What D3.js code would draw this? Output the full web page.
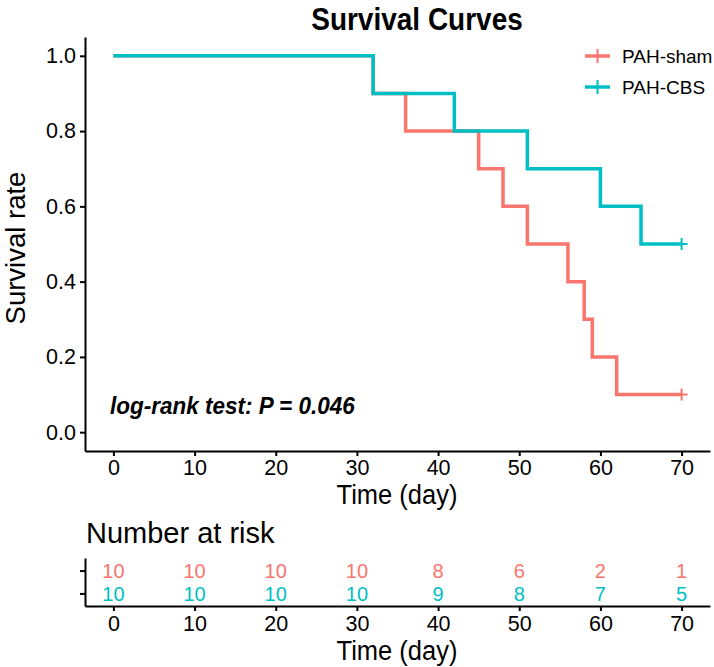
<!DOCTYPE html>
<meta charset="utf-8">
<style>
body { margin: 0; background: #fff; }
svg { display: block; font-family: "Liberation Sans", Arial, sans-serif; }
.axis path, .axis line { stroke: #000; stroke-width: 2px; }
.axis text { fill: #000; font-size: 21.5px; }
</style>
<body>
<div id="chart"></div>
<script src="https://cdnjs.cloudflare.com/ajax/libs/d3/7.8.5/d3.min.js"></script>
<script>
// groups and colours
var groups = ["PAH-sham", "PAH-CBS"];
var colors = ["#F8766D", "#00BFC4"];

// Kaplan-Meier step points (time, survival) per group
var shamTime = [0, 32, 36, 45, 48, 51, 56, 58, 59, 62, 70];
var shamSurv = [1.0, 0.9, 0.8, 0.7, 0.6, 0.5, 0.4, 0.3, 0.2, 0.1, 0.1];
var cbsTime = [0, 32, 42, 51, 60, 65, 70];
var cbsSurv = [1.0, 0.9, 0.8, 0.7, 0.6, 0.5, 0.5];

// censored at end of follow-up
var censorTime = [70, 70];
var censorSurv = [0.1, 0.5];

// number at risk table
var riskTimes = [0, 10, 20, 30, 40, 50, 60, 70];
var shamRisk = [10, 10, 10, 10, 8, 6, 2, 1];
var cbsRisk = [10, 10, 10, 10, 9, 8, 7, 5];

var xTicks = [0, 10, 20, 30, 40, 50, 60, 70];
var yTicks = [0, 0.2, 0.4, 0.6, 0.8, 1.0];

var width = 714, height = 667;

var svg = d3.select("#chart").append("svg")
    .attr("width", width)
    .attr("height", height);

// text in the original is a little taller than wide
function label(px, py, txt, size, sy) {
    return svg.append("text")
        .attr("transform", "translate(" + px + "," + py + ") scale(1," + sy + ")")
        .style("font-size", size + "px")
        .text(txt);
}

var x = d3.scaleLinear().domain([-3.5, 73.5]).range([85, 710]);
var y = d3.scaleLinear().domain([-0.05, 1.05]).range([451, 37]);

// title
label(417, 30, "Survival Curves", 28, 1.1)
    .attr("text-anchor", "middle")
    .style("font-weight", "bold");

// axes
svg.append("g").attr("class", "axis")
    .attr("transform", "translate(0,451)")
    .call(d3.axisBottom(x).tickValues(xTicks).tickSize(5).tickPadding(4).tickSizeOuter(0));
svg.append("g").attr("class", "axis")
    .attr("transform", "translate(85,0)")
    .call(d3.axisLeft(y).tickValues(yTicks).tickFormat(d3.format(".1f")).tickSize(5).tickPadding(4).tickSizeOuter(0));

label(397, 504, "Time (day)", 25.5, 1.05).attr("text-anchor", "middle");
svg.append("text")
    .attr("transform", "translate(25,248) rotate(-90)")
    .attr("text-anchor", "middle")
    .style("font-size", "27.5px")
    .text("Survival rate");

// curves
var line = d3.line()
    .x(function(d) { return x(d[0]); })
    .y(function(d) { return y(d[1]); })
    .curve(d3.curveStepAfter);

var series = [d3.zip(shamTime, shamSurv), d3.zip(cbsTime, cbsSurv)];
series.forEach(function(s, i) {
    svg.append("path")
        .datum(s)
        .attr("fill", "none")
        .attr("stroke", colors[i])
        .attr("stroke-width", 3.5)
        .attr("d", line);
    // censor mark
    var cx = x(censorTime[i]), cy = y(censorSurv[i]);
    svg.append("path")
        .attr("d", "M" + (cx - 6) + "," + cy + "H" + (cx + 6) + "M" + cx + "," + (cy - 6) + "V" + (cy + 6))
        .attr("stroke", colors[i])
        .attr("stroke-width", 2);
});

// legend
groups.forEach(function(g, i) {
    var ly = 56 + i * 31;
    var lg = svg.append("g");
    lg.append("line").attr("x1", 585).attr("x2", 610).attr("y1", ly).attr("y2", ly)
        .attr("stroke", colors[i]).attr("stroke-width", 3.5);
    lg.append("line").attr("x1", 597.5).attr("x2", 597.5).attr("y1", ly - 7).attr("y2", ly + 7)
        .attr("stroke", colors[i]).attr("stroke-width", 2);
    lg.append("text").attr("x", 622).attr("y", ly + 7)
        .style("font-size", "19px")
        .text(g);
});

// log-rank annotation
label(110, 414, "log-rank test: P = 0.046", 22.5, 1.1)
    .style("font-weight", "bold").style("font-style", "italic");

// number at risk
label(86, 543, "Number at risk", 29, 1.0);

var yr = d3.scalePoint().domain(["PAH-CBS", "PAH-sham"]).range([606, 558]).padding(0.55);

svg.append("g").attr("class", "axis")
    .attr("transform", "translate(0,606)")
    .call(d3.axisBottom(x).tickValues(xTicks).tickSize(5).tickPadding(5).tickSizeOuter(0));
svg.append("g").attr("class", "axis")
    .attr("transform", "translate(85,0)")
    .call(d3.axisLeft(yr).tickFormat("").tickSize(5).tickSizeOuter(0));

var riskRows = [shamRisk, cbsRisk];
riskRows.forEach(function(row, i) {
    svg.append("g").selectAll("text")
        .data(row)
        .join("text")
        .attr("x", function(d, j) { return x(riskTimes[j]); })
        .attr("y", yr(groups[i]))
        .attr("dy", "0.36em")
        .attr("text-anchor", "middle")
        .attr("fill", colors[i])
        .style("font-size", "20px")
        .text(function(d) { return d; });
});

label(397, 660, "Time (day)", 25.5, 1.05).attr("text-anchor", "middle");
</script>
</body>
</html>
